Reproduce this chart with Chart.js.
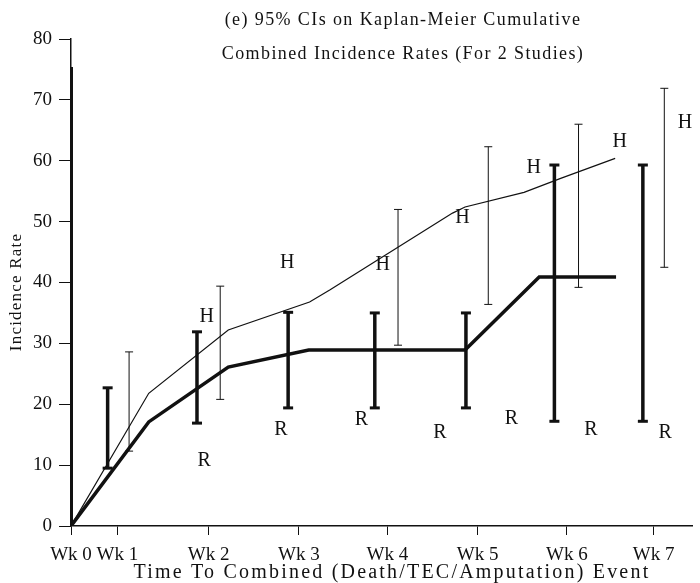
<!DOCTYPE html>
<html>
<head>
<meta charset="utf-8">
<script src="https://cdn.jsdelivr.net/npm/chart.js@4.4.1/dist/chart.umd.min.js"></script>
<style>
  html, body { margin: 0; padding: 0; background: #fff; }
  #wrap { width: 700px; height: 583px; }
</style>
</head>
<body>
<div id="wrap"><canvas id="kmChart"></canvas></div>
<script>
// time axis: one unit ~ one week, ticks sit where the printed figure put them
const weekTicks = [0, 0.52, 1.54, 2.55, 3.54, 4.55, 5.55, 6.52];
const weekLabels = ['Wk 0', 'Wk 1', 'Wk 2', 'Wk 3', 'Wk 4', 'Wk 5', 'Wk 6', 'Wk 7'];

// Kaplan-Meier cumulative incidence, study R (thick) and study H (thin)
const rTime = [0, 0.87, 1.76, 2.66, 4.41, 5.24, 6.10];
const rRate = [0, 17.1, 26.1, 28.9, 28.9, 40.9, 40.9];
const hTime = [0, 0.87, 1.76, 2.67, 2.90, 4.27, 4.41, 5.07, 5.48, 6.09];
const hRate = [0, 21.8, 32.2, 36.8, 38.8, 51.4, 52.4, 54.8, 57.1, 60.4];

// 95% confidence intervals
const rCiTime = [0.41, 1.41, 2.43, 3.40, 4.42, 5.41, 6.40];
const rCiLow = [9.5, 16.9, 19.4, 19.4, 19.4, 17.2, 17.2];
const rCiHigh = [22.7, 31.9, 35.1, 35.0, 35.0, 59.3, 59.3];
const hCiTime = [0.65, 1.67, 3.66, 4.67, 5.68, 6.64];
const hCiLow = [12.3, 20.8, 29.7, 36.4, 39.2, 42.5];
const hCiHigh = [28.6, 39.4, 52.0, 62.3, 66.0, 71.9];

// letter markers
const hMarkTime = [1.52, 2.42, 3.49, 4.38, 5.18, 6.14, 6.87];
const hMarkRate = [34.3, 43.3, 42.9, 50.6, 58.8, 63.1, 66.3];
const rMarkTime = [1.49, 2.35, 3.25, 4.13, 4.93, 5.82, 6.65];
const rMarkRate = [10.8, 15.8, 17.4, 15.3, 17.7, 15.8, 15.3];

// heavy bar at week 0
const baseBarTime = [0, 0];
const baseBarRate = [0, 75.4];

const titleLines = ['(e) 95% CIs on Kaplan-Meier Cumulative', 'Combined Incidence Rates (For 2 Studies)'];
const xTitle = 'Time To Combined (Death/TEC/Amputation) Event';
const yTitle = 'Incidence Rate';

const ink = '#111';
const serif = '"Liberation Serif", "DejaVu Serif", serif';

function toPoints(xs, ys) {
    return xs.map((v, i) => ({ x: v, y: ys[i] }));
}

function ciDatasets(times, lows, highs, width, cap) {
    return times.map((t, i) => ({
        data: [{ x: t, y: lows[i] }, { x: t, y: highs[i] }],
        borderColor: ink,
        borderWidth: width,
        pointStyle: 'line',
        pointRadius: cap,
        pointBorderWidth: width > 2 ? 3 : 1,
        pointBorderColor: ink,
        pointHoverRadius: cap
    }));
}

// titles and letter markers drawn on top
const scanText = {
    id: 'scanText',
    afterDraw(chart) {
        const { ctx, scales: { x, y } } = chart;
        ctx.save();
        ctx.fillStyle = ink;
        ctx.textAlign = 'center';
        ctx.textBaseline = 'middle';

        ctx.font = '18px ' + serif;
        ctx.letterSpacing = '1.4px';
        ctx.fillText(titleLines[0], 403, 20);
        ctx.fillText(titleLines[1], 403, 54);

        ctx.font = '20px ' + serif;
        ctx.letterSpacing = '2.2px';
        ctx.fillText(xTitle, 392, 573);

        ctx.save();
        ctx.translate(17, 292);
        ctx.rotate(-Math.PI / 2);
        ctx.font = '17px ' + serif;
        ctx.letterSpacing = '1.2px';
        ctx.fillText(yTitle, 0, 0);
        ctx.restore();

        ctx.font = '20px ' + serif;
        ctx.letterSpacing = '0px';
        hMarkTime.forEach((t, i) => {
            ctx.fillText('H', x.getPixelForValue(t), y.getPixelForValue(hMarkRate[i]));
        });
        rMarkTime.forEach((t, i) => {
            ctx.fillText('R', x.getPixelForValue(t), y.getPixelForValue(rMarkRate[i]));
        });
        ctx.restore();
    }
};

const datasets = [
    {
        data: toPoints(rTime, rRate),
        borderColor: ink,
        borderWidth: 3.5,
        pointRadius: 0,
        tension: 0
    },
    {
        data: toPoints(hTime, hRate),
        borderColor: ink,
        borderWidth: 1.2,
        pointRadius: 0,
        tension: 0
    },
    {
        data: toPoints(baseBarTime, baseBarRate),
        borderColor: ink,
        borderWidth: 4,
        pointRadius: 0
    },
    ...ciDatasets(rCiTime, rCiLow, rCiHigh, 3.5, 5),
    ...ciDatasets(hCiTime, hCiLow, hCiHigh, 1, 4)
];

new Chart(document.getElementById('kmChart'), {
    type: 'line',
    data: { datasets: datasets },
    plugins: [scanText],
    options: {
        responsive: true,
        maintainAspectRatio: false,
        animation: false,
        layout: { padding: { top: 39, right: 0, bottom: 0, left: 0 } },
        plugins: {
            legend: { display: false },
            tooltip: { enabled: false }
        },
        scales: {
            x: {
                type: 'linear',
                min: 0,
                max: 6.95,
                afterBuildTicks: (scale) => {
                    scale.ticks = weekTicks.map(v => ({ value: v }));
                },
                afterFit: (scale) => {
                    scale.height = 57;
                    scale.paddingLeft = 0;
                    scale.paddingRight = 0;
                },
                ticks: {
                    autoSkip: false,
                    maxRotation: 0,
                    padding: 9,
                    color: ink,
                    font: { family: serif, size: 19 },
                    callback: (value, index) => weekLabels[index]
                },
                grid: { drawOnChartArea: false, drawTicks: true, tickLength: 9, color: ink },
                border: { color: ink, width: 1.5 }
            },
            y: {
                min: 0,
                max: 80,
                afterFit: (scale) => {
                    scale.width = 71;
                },
                ticks: {
                    stepSize: 10,
                    padding: 7,
                    color: ink,
                    font: { family: serif, size: 19 }
                },
                grid: { drawOnChartArea: false, drawTicks: true, tickLength: 12, color: ink },
                border: { color: ink, width: 1.5 }
            }
        }
    }
});
</script>
</body>
</html>
